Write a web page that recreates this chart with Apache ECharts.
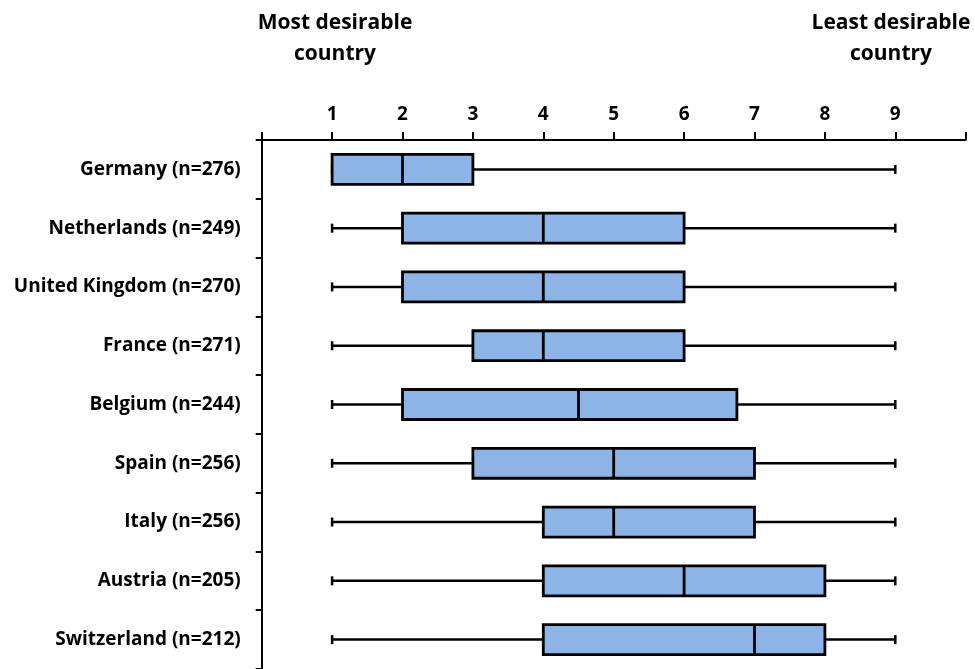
<!DOCTYPE html>
<html>
<head>
<meta charset="utf-8">
<script src="https://cdn.jsdelivr.net/npm/echarts@6/dist/echarts.min.js"></script>
<style>
  html, body { margin: 0; padding: 0; background: #fff; }
  #chart { width: 975px; height: 669px; }
</style>
</head>
<body>
<div id="chart"></div>
<script>
const categories = [
  'Germany (n=276)',
  'Netherlands (n=249)',
  'United Kingdom (n=270)',
  'France (n=271)',
  'Belgium (n=244)',
  'Spain (n=256)',
  'Italy (n=256)',
  'Austria (n=205)',
  'Switzerland (n=212)'
];
const minVals = [1, 1, 1, 1, 1, 1, 1, 1, 1];
const q1Vals  = [1, 2, 2, 3, 2, 3, 4, 4, 4];
const medVals = [2, 4, 4, 4, 4.5, 5, 5, 6, 7];
const q3Vals  = [3, 6, 6, 6, 6.75, 7, 7, 8, 8];
const maxVals = [9, 9, 9, 9, 9, 9, 9, 9, 9];
const tickLabels = ['1', '2', '3', '4', '5', '6', '7', '8', '9'];

const rows = categories.map((c, i) => [i, minVals[i], q1Vals[i], medVals[i], q3Vals[i], maxVals[i]]);

const FONT = '"Open Sans", "DejaVu Sans", sans-serif';
const chart = echarts.init(document.getElementById('chart'));

function renderItem(params, api) {
  const y = api.value(0);
  const pMin = api.coord([api.value(1), y]);
  const pQ1 = api.coord([api.value(2), y]);
  const pMed = api.coord([api.value(3), y]);
  const pQ3 = api.coord([api.value(4), y]);
  const pMax = api.coord([api.value(5), y]);
  const band = api.size([0, 1])[1];
  const boxH = band * 0.51;
  const capH = 9;
  const cy = pMed[1];
  const lineStyle = { stroke: '#000', lineWidth: 2.5, fill: null };
  return {
    type: 'group',
    children: [
      { type: 'line', shape: { x1: pMin[0], y1: cy, x2: pQ1[0], y2: cy }, style: lineStyle },
      { type: 'line', shape: { x1: pQ3[0], y1: cy, x2: pMax[0], y2: cy }, style: lineStyle },
      { type: 'line', shape: { x1: pMin[0], y1: cy - capH / 2, x2: pMin[0], y2: cy + capH / 2 }, style: lineStyle },
      { type: 'line', shape: { x1: pMax[0], y1: cy - capH / 2, x2: pMax[0], y2: cy + capH / 2 }, style: lineStyle },
      { type: 'rect', shape: { x: pQ1[0], y: cy - boxH / 2, width: pQ3[0] - pQ1[0], height: boxH },
        style: { fill: '#8DB4E6', stroke: '#000', lineWidth: 2.8 } },
      { type: 'line', shape: { x1: pMed[0], y1: cy - boxH / 2, x2: pMed[0], y2: cy + boxH / 2 }, style: { stroke: '#000', lineWidth: 2.8 } }
    ]
  };
}

chart.setOption({
  animation: false,
  backgroundColor: '#fff',
  grid: { left: 261.7, right: 9.3, top: 140, bottom: -3, containLabel: false },
  xAxis: {
    type: 'value',
    position: 'top',
    min: 0, max: 10, interval: 1,
    axisLine: { show: true, lineStyle: { color: '#000', width: 2 } },
    axisTick: { show: true, length: 8, lineStyle: { color: '#000', width: 2 } },
    splitLine: { show: false },
    axisLabel: {
      margin: 16,
      color: '#000', fontFamily: FONT, fontWeight: 'bold', fontSize: 19,
      formatter: v => (v >= 1 && v <= 9 ? tickLabels[v - 1] : '')
    }
  },
  yAxis: {
    type: 'category',
    data: categories,
    inverse: true,
    axisLine: { show: true, lineStyle: { color: '#000', width: 2 } },
    axisTick: { show: true, length: 6, lineStyle: { color: '#000', width: 2 } },
    axisLabel: { margin: 21, color: '#000', fontFamily: FONT, fontWeight: 'bold', fontSize: 19 }
  },
  graphic: [
    { type: 'text', x: 335, y: 8, style: { text: 'Most desirable\ncountry', textAlign: 'center',
      font: 'bold 21px ' + FONT, lineHeight: 31, fill: '#000' } },
    { type: 'text', x: 891, y: 8, style: { text: 'Least desirable\ncountry', textAlign: 'center',
      font: 'bold 21px ' + FONT, lineHeight: 31, fill: '#000' } }
  ],
  series: [{
    type: 'custom',
    renderItem: renderItem,
    encode: { x: [1, 2, 3, 4, 5], y: 0 },
    data: rows
  }]
});
</script>
</body>
</html>
